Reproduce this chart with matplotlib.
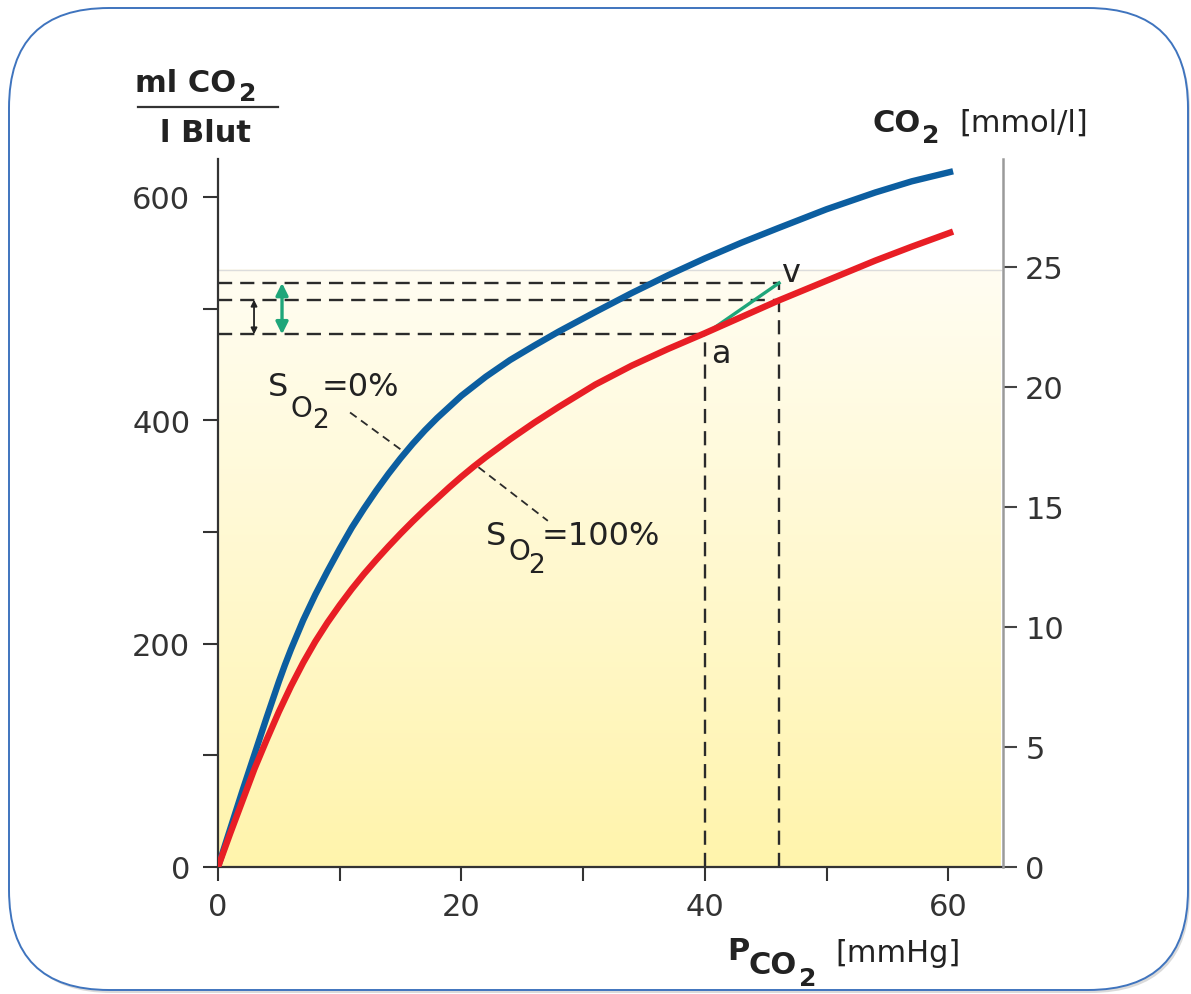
import numpy as np
import matplotlib
matplotlib.use("Agg")
import matplotlib.pyplot as plt
from matplotlib.patches import FancyBboxPatch
from matplotlib.lines import Line2D
from matplotlib.transforms import IdentityTransform

# ---------------- data ----------------
pco2_blue = [0, 1, 2, 3, 4, 5, 5.5, 6, 7, 8, 9, 10, 11, 12, 13, 14, 15, 16, 17, 18,
             20, 22, 24, 26, 28, 31, 34, 37, 40, 43, 46, 50, 54, 57, 60.4]
co2_blue = [0, 34, 68, 101, 134, 166, 181, 195, 221, 244, 265, 285, 304, 321, 337, 352,
            366, 379, 391, 402, 422, 439, 454, 467, 479.5, 497, 514, 530, 545, 559, 572,
            589, 604, 614, 623]
pco2_red = [0, 1, 2, 3, 4, 5, 6, 7, 8, 9, 10, 11, 12, 13, 14, 15, 16, 17, 18, 19,
            20, 21, 22, 24, 26, 28, 31, 34, 37, 40, 43, 46, 50, 54, 57, 60.4]
co2_red = [0, 30, 59, 88, 114, 139, 162, 183, 202, 219, 234.5, 249, 262.5, 275, 287,
           298.5, 309.5, 320, 330, 340, 349.5, 358.5, 367, 383, 398, 412, 432, 449, 464,
           478, 492.5, 507, 525, 543, 555.5, 569]

point_a = (40.0, 477)      # arterial point
point_v = (46.1, 523)      # venous point
level_red_at_v = 508       # red curve at venous PCO2

x_major = [0, 20, 40, 60]
x_minor = [10, 30, 50]
y_major = [0, 200, 400, 600]
y_minor = [100, 300, 500]
y_right = [0, 5, 10, 15, 20, 25]
ml_per_mmol = 21.5

# ---------------- figure ----------------
W, H = 1191, 995
fig = plt.figure(figsize=(W / 100, H / 100), dpi=100)
fig.patch.set_facecolor("white")
plt.rcParams["font.family"] = ["DejaVu Sans"]

ax = fig.add_axes([218 / W, 1 - 868 / H, (1003 - 218) / W, (868 - 160) / H])
XMAX, YMAX = 64.5, 634

# yellow gradient background
grad = np.linspace(0, 1, 256)[:, None, None]
top_c = np.array([255, 253, 242]) / 255
bot_c = np.array([255, 244, 172]) / 255
img = bot_c + (top_c - bot_c) * grad
ax.imshow(img, origin="lower", extent=[0, 64.3, 0, 535], aspect="auto",
          zorder=0, interpolation="bilinear")
ax.plot([0, 64.3], [535, 535], color="#dcdcdc", lw=1.0, zorder=1)

DASH = dict(color="#2b2b2b", lw=1.7, ls=(0, (6.0, 3.4)), zorder=2)
ax.plot([0, point_v[0]], [point_v[1], point_v[1]], **DASH)
ax.plot([0, point_v[0]], [level_red_at_v, level_red_at_v], **DASH)
ax.plot([0, point_a[0]], [point_a[1], point_a[1]], **DASH)
ax.plot([point_a[0], point_a[0]], [0, point_a[1]], **DASH)
ax.plot([point_v[0], point_v[0]], [0, point_v[1]], **DASH)

# curves
ax.plot(pco2_blue, co2_blue, color="#0c5ea0", lw=4.6, solid_capstyle="butt",
        solid_joinstyle="round", zorder=4)
ax.plot(pco2_red, co2_red, color="#e81e25", lw=4.6, solid_capstyle="butt",
        solid_joinstyle="round", zorder=4)

# a -> v line
ax.plot([point_a[0], point_v[0]], [point_a[1], point_v[1]], color="#1fa67a", lw=2.4, zorder=3)

# arrows
ax.annotate("", xy=(2.96, point_a[1]), xytext=(2.96, level_red_at_v),
            arrowprops=dict(arrowstyle="<|-|>", color="#222222", lw=1.3,
                            mutation_scale=9, shrinkA=0, shrinkB=0), zorder=5)
ax.annotate("", xy=(5.26, point_a[1]), xytext=(5.26, point_v[1]),
            arrowprops=dict(arrowstyle="<|-|>", color="#1fa67a", lw=2.4,
                            mutation_scale=18, shrinkA=0, shrinkB=0), zorder=5)

# label connectors
CON = dict(color="#2b2b2b", lw=1.3, ls=(0, (4.5, 3)), zorder=3)
ax.plot([10.85, 15.5], [407, 370], **CON)
ax.plot([21.4, 27.1], [358, 310], **CON)

TXT = "#222222"
# S_O2 = 0%
ax.text(4.1, 422.6, "S", fontsize=23, color=TXT, va="baseline")
ax.text(5.95, 403.9, "O", fontsize=20, color=TXT, va="baseline")
ax.text(7.75, 394.0, "2", fontsize=19, color=TXT, va="baseline")
ax.text(8.55, 422.6, "=0%", fontsize=23, color=TXT, va="baseline")
# S_O2 = 100%
ax.text(22.05, 289.2, "S", fontsize=23, color=TXT, va="baseline")
ax.text(23.9, 275.8, "O", fontsize=20, color=TXT, va="baseline")
ax.text(25.5, 264.2, "2", fontsize=19, color=TXT, va="baseline")
ax.text(26.55, 289.2, "=100%", fontsize=23, color=TXT, va="baseline")
# a, v
ax.text(40.5, 452, "a", fontsize=23, color=TXT, va="baseline")
ax.text(46.25, 525, "v", fontsize=23, color=TXT, va="baseline")

# axes styling
ax.set_xlim(0, XMAX)
ax.set_ylim(0, YMAX)
ax.set_facecolor("white")
for s in ["top", "right"]:
    ax.spines[s].set_visible(False)
for s in ["left", "bottom"]:
    ax.spines[s].set_color("#333333")
    ax.spines[s].set_linewidth(1.6)
ax.set_xticks(x_major)
ax.set_xticks(x_minor, minor=True)
ax.set_yticks(y_major)
ax.set_yticks(y_minor, minor=True)
ax.tick_params(axis="both", which="both", direction="out", color="#333333",
               width=1.5, labelsize=22, labelcolor="#333333")
ax.tick_params(axis="x", which="both", length=10, pad=8)
ax.tick_params(axis="y", which="both", length=11, pad=9)

ax2 = ax.twinx()
ax2.set_ylim(0, YMAX / ml_per_mmol)
ax2.set_yticks(y_right)
for s in ["top", "left", "bottom"]:
    ax2.spines[s].set_visible(False)
ax2.spines["right"].set_color("#9a9a9a")
ax2.spines["right"].set_linewidth(1.8)
ax2.tick_params(axis="y", direction="out", length=10, width=1.5, color="#444444",
                labelsize=22, labelcolor="#333333", pad=6)

# ---------------- axis titles (figure pixel positions) ----------------
def ptext(x, y, s, size, weight="normal"):
    fig.text(x / W, 1 - y / H, s, fontsize=size, fontweight=weight,
             color=TXT, ha="left", va="baseline")

ptext(135, 92, "ml CO", 22, "bold")
ptext(239, 101, "2", 18, "bold")
fig.add_artist(Line2D([137.7 / W, 278 / W], [1 - 107.7 / H, 1 - 107.7 / H],
                      color="#333333", lw=1.6))
ptext(160, 142, "l Blut", 22, "bold")

ptext(872, 132, "CO", 22, "bold")
ptext(922, 143, "2", 18, "bold")
ptext(959, 132, "[mmol/l]", 22)

ptext(727, 960, "P", 22, "bold")
ptext(749, 974, "CO", 22, "bold")
ptext(799, 986, "2", 18, "bold")
ptext(835, 962, "[mmHg]", 22)

# ---------------- rounded frame with soft shadow ----------------
shadow = FancyBboxPatch((12, 1), 1178, 982, boxstyle="round,pad=0,rounding_size=100",
                        transform=IdentityTransform(), fc="#dadada", ec="none", zorder=-3)
frame = FancyBboxPatch((9, 4), 1179, 982, boxstyle="round,pad=0,rounding_size=100",
                       transform=IdentityTransform(), fc="white", ec="#3f74be", lw=1.4,
                       zorder=-2)
fig.add_artist(shadow)
fig.add_artist(frame)

fig.savefig("out.png", dpi=100, facecolor="white")
